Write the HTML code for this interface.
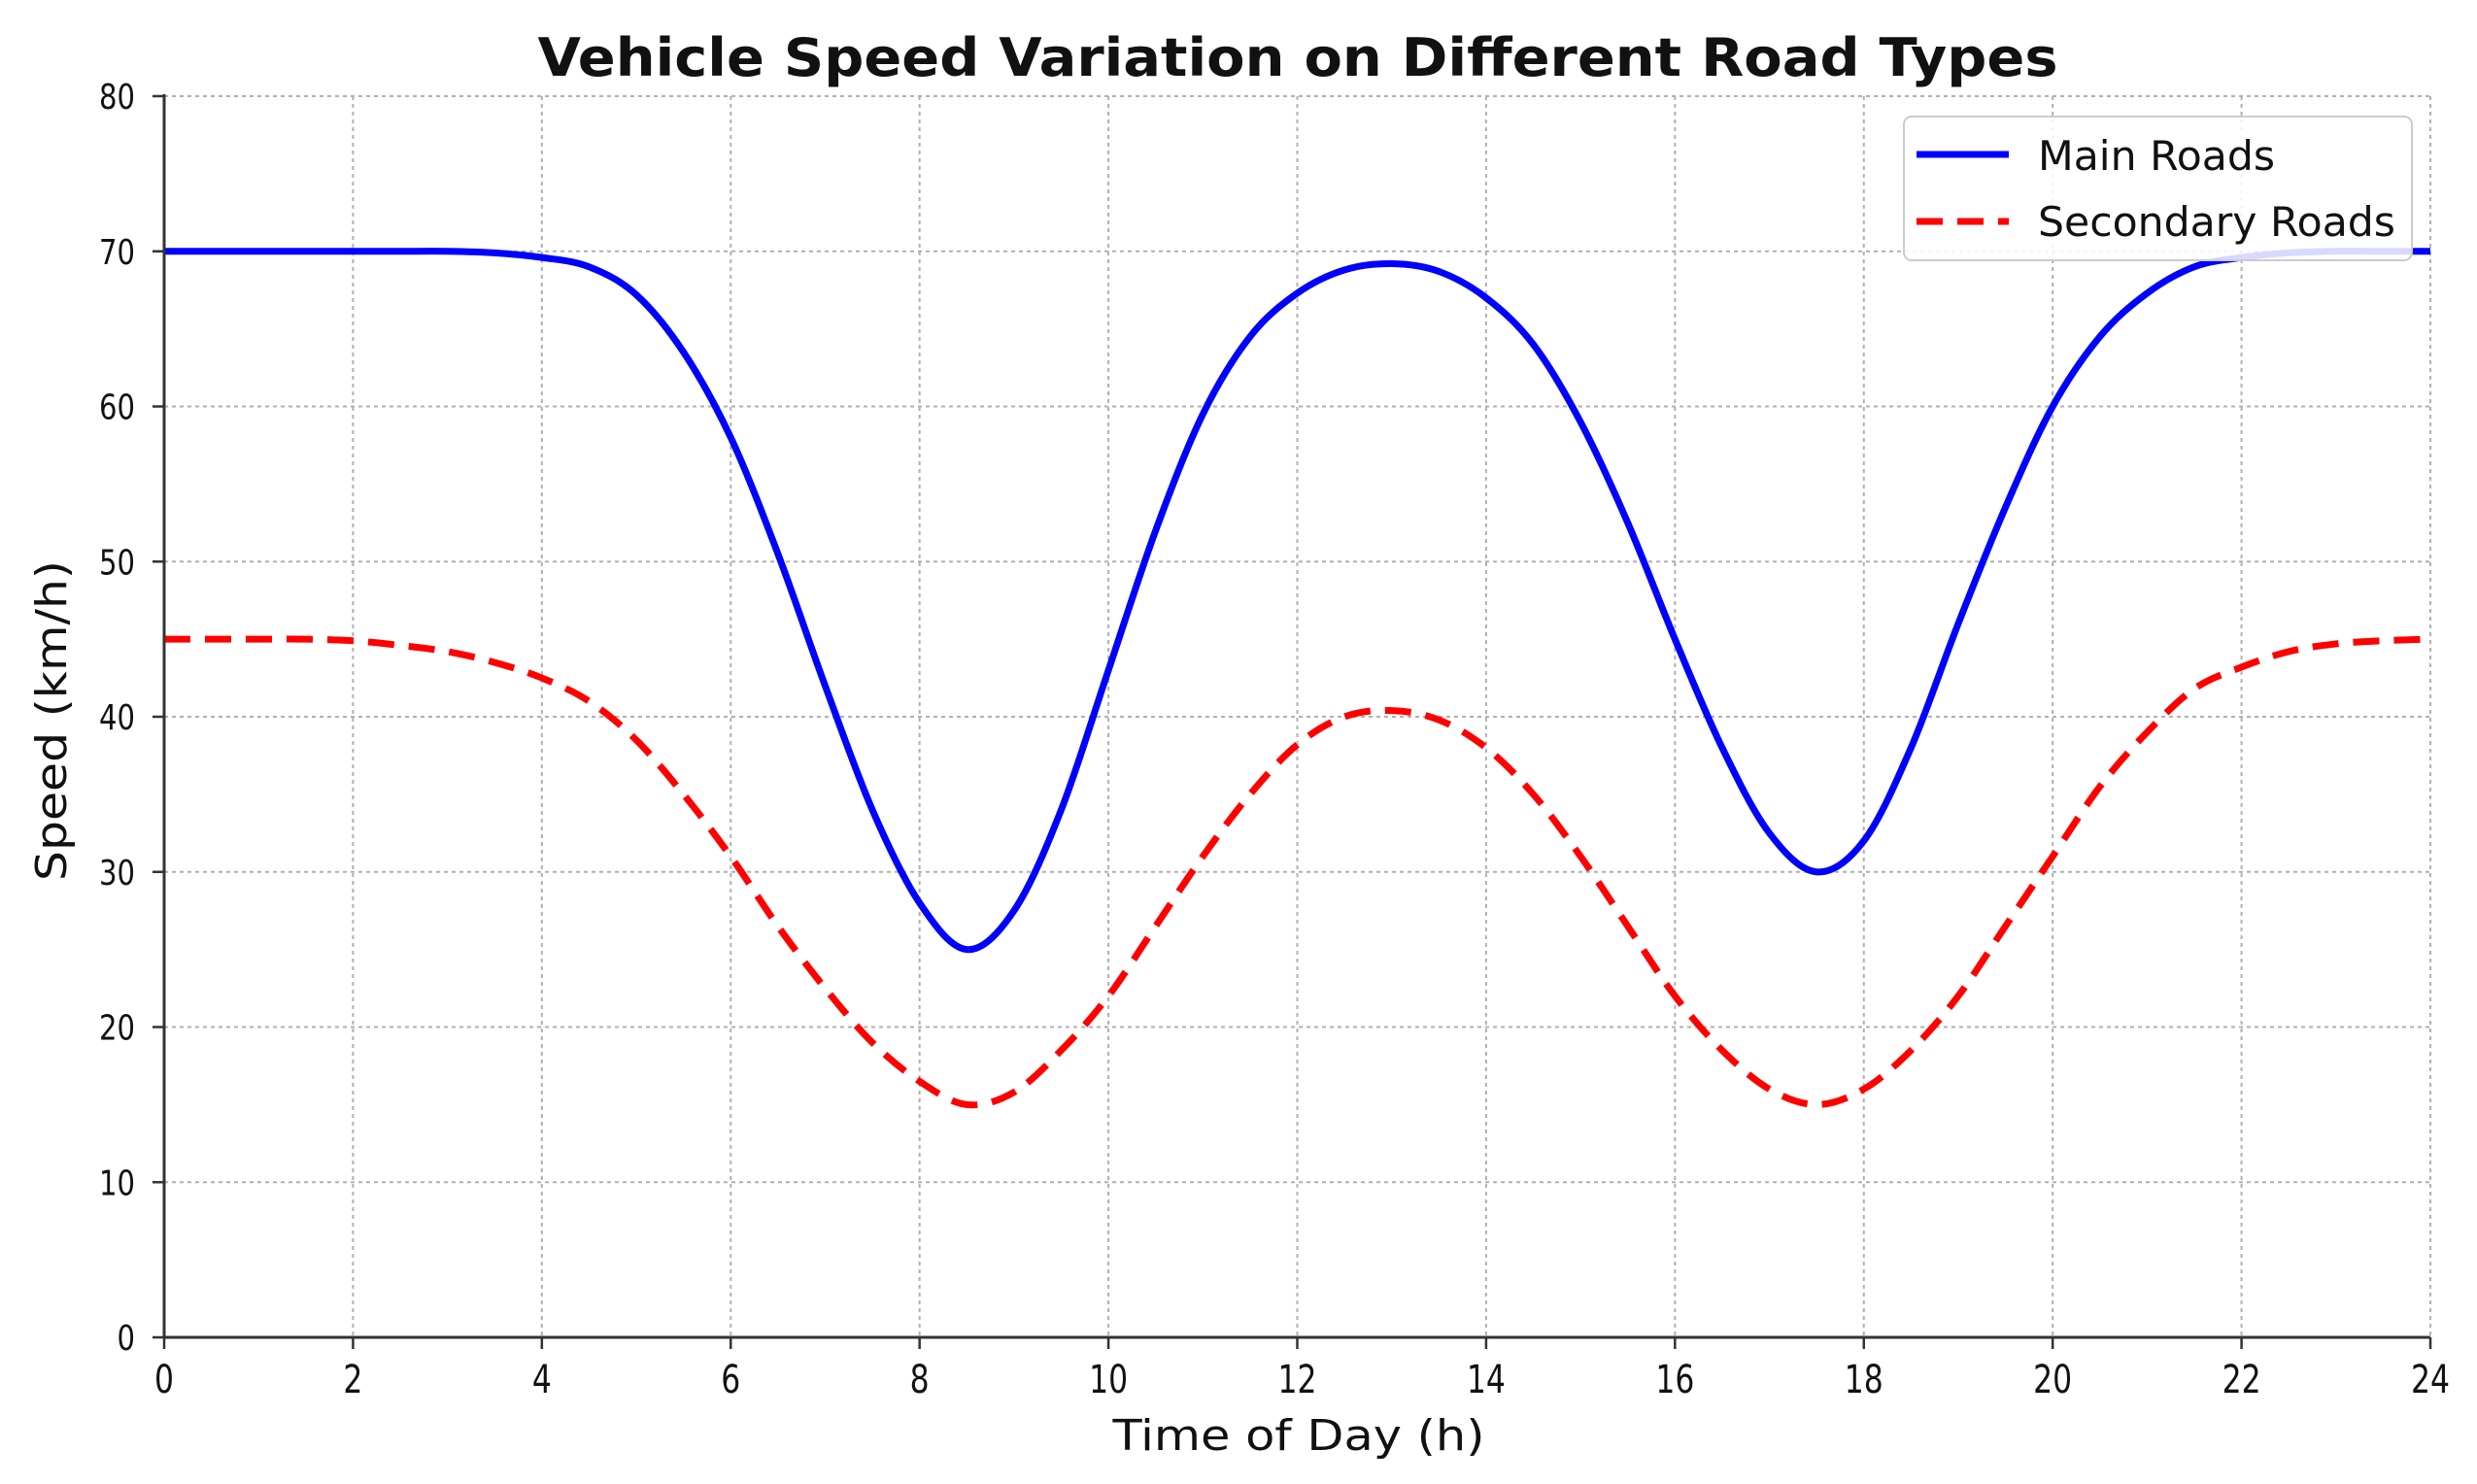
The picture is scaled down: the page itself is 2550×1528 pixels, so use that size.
<!DOCTYPE html>
<html><head><meta charset="utf-8"><style>
html,body{margin:0;padding:0;background:#fff;}
svg{display:block;}
text{font-family:"DejaVu Sans","Liberation Sans",sans-serif;fill:#111;}
</style></head><body>
<svg id="chart" width="2550" height="1528" viewBox="0 0 2550 1528" xmlns="http://www.w3.org/2000/svg">
<text x="1336" y="78" text-anchor="middle" font-size="54" font-weight="bold" textLength="1565" lengthAdjust="spacingAndGlyphs">Vehicle Speed Variation on Different Road Types</text>
<g id="grid"></g>
<g id="series"></g>
<g id="axes"></g>
<text x="1337" y="1493" text-anchor="middle" font-size="44" textLength="383" lengthAdjust="spacingAndGlyphs">Time of Day (h)</text>
<text transform="translate(68,742) rotate(-90)" text-anchor="middle" font-size="44" textLength="330" lengthAdjust="spacingAndGlyphs">Speed (km/h)</text>
<g>
<rect x="1960" y="120" width="523" height="148" rx="8" fill="rgba(255,255,255,0.85)" stroke="#ccc" stroke-width="2"/>
<line x1="1973" y1="159" x2="2068" y2="159" stroke="#0000ff" stroke-width="7"/>
<text x="2098" y="175" font-size="42" textLength="244" lengthAdjust="spacingAndGlyphs">Main Roads</text>
<line x1="1973" y1="228" x2="2068" y2="228" stroke="#ff0000" stroke-width="7" stroke-dasharray="27,15"/>
<text x="2098" y="243" font-size="42" textLength="368" lengthAdjust="spacingAndGlyphs">Secondary Roads</text>
</g>
</svg>
<script>
const hours = [0,0.5,1,1.5,2,2.5,3,3.5,4,4.5,5,5.5,6,6.5,7,7.5,8,8.5,9,9.5,10,10.5,11,11.5,12,12.5,13,13.5,14,14.5,15,15.5,16,16.5,17,17.5,18,18.5,19,19.5,20,20.5,21,21.5,22,22.5,23,23.5,24];
const mainRoads = [70,70,70,70,70,70,70,69.9,69.6,69.0,67.2,63.5,58,50.5,42,34,28,25,27.5,34,43,52,59.5,64.5,67.3,68.8,69.2,68.7,67,64,59,52.5,45,38,32.5,30,32,38,46,53.5,60,64.5,67.3,69,69.6,69.9,70,70,70];
const secondaryRoads = [45,45,45,45,44.9,44.6,44.2,43.5,42.5,41,38.5,35,31,26.5,22.5,19,16.5,15,15.8,18.5,22,26.5,31,35,38.2,40,40.4,39.8,38,35,31,26.5,22,18.5,16,15,16,18.5,22,26.5,31,35.5,39,41.8,43.2,44.2,44.7,44.9,45];
const xTicks = [0,2,4,6,8,10,12,14,16,18,20,22,24];
const yTicks = [0,10,20,30,40,50,60,70,80];

const NS = "http://www.w3.org/2000/svg";
const X0=169, X1=2502, Y0=1377, Y1=99;
function xs(v){return X0+(v-0)/(24-0)*(X1-X0);}
function ys(v){return Y0-(v-0)/(80-0)*(Y0-Y1);}
function mk(tag, attrs, parent){const e=document.createElementNS(NS,tag);for(const k in attrs)e.setAttribute(k,attrs[k]);parent.appendChild(e);return e;}
const grid=document.getElementById('grid'), axes=document.getElementById('axes'), series=document.getElementById('series');

xTicks.forEach(t=>{
  const x=xs(t);
  if(t>0){const g=mk('line',{x1:x,y1:Y1,x2:x,y2:Y0,stroke:'#b0b0b0','stroke-width':2,'stroke-dasharray':'4,4'},grid);
  
  }
  const tk=mk('line',{x1:x,y1:Y0,x2:x,y2:Y0+12,stroke:'#333','stroke-width':2.5},axes);
  
  
  const lb=mk('text',{x:x,y:1434,'text-anchor':'middle','font-size':40},axes);
  
  
  lb.textContent=t;
  lb.setAttribute('textLength', String(t).length*20);
  lb.setAttribute('lengthAdjust','spacingAndGlyphs');
});
yTicks.forEach(t=>{
  const y=ys(t);
  if(t>0){const g=mk('line',{x1:X0,y1:y,x2:X1,y2:y,stroke:'#b0b0b0','stroke-width':2,'stroke-dasharray':'4,4'},grid);
  
  }
  const tk=mk('line',{x1:X0-12,y1:y,x2:X0,y2:y,stroke:'#333','stroke-width':2.5},axes);
  
  
  const lb=mk('text',{x:139,y:y+13,'text-anchor':'end','font-size':36},axes);
  
  
  lb.textContent=t;
  lb.setAttribute('textLength', String(t).length*18.5);
  lb.setAttribute('lengthAdjust','spacingAndGlyphs');
});
const sl=mk('line',{x1:X0,y1:Y1-2,x2:X0,y2:Y0,stroke:'#333','stroke-width':3},axes);


const sb=mk('line',{x1:X0,y1:Y0,x2:X1,y2:Y0,stroke:'#333','stroke-width':3},axes);



function smoothPath(xv, yv){
  const p=xv.map((x,i)=>[xs(x),ys(yv[i])]);
  let d='M'+p[0][0]+','+p[0][1];
  for(let i=0;i<p.length-1;i++){
    const p0=p[Math.max(0,i-1)],p1=p[i],p2=p[i+1],p3=p[Math.min(p.length-1,i+2)];
    const c1=[p1[0]+(p2[0]-p0[0])/6,p1[1]+(p2[1]-p0[1])/6];
    const c2=[p2[0]-(p3[0]-p1[0])/6,p2[1]-(p3[1]-p1[1])/6];
    d+=' C'+c1[0]+','+c1[1]+' '+c2[0]+','+c2[1]+' '+p2[0]+','+p2[1];
  }
  return d;
}
const sec=mk('path',{d:smoothPath(hours,secondaryRoads),fill:'none',stroke:'#ff0000','stroke-width':7,'stroke-dasharray':'27,15'},series);


const main=mk('path',{d:smoothPath(hours,mainRoads),fill:'none',stroke:'#0000ff','stroke-width':7},series);


</script>
</body></html>
